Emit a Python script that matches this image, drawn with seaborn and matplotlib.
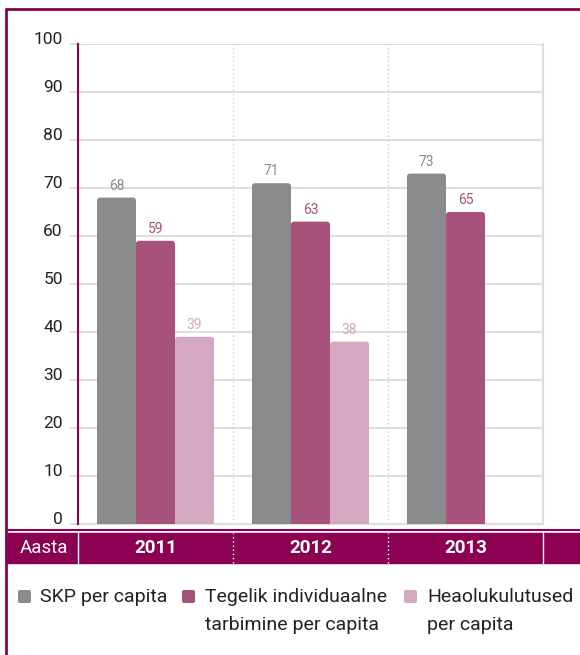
import matplotlib
import matplotlib.pyplot as plt
import pandas as pd
import seaborn as sns
from matplotlib.lines import Line2D
from matplotlib.patches import FancyBboxPatch, Rectangle
from matplotlib.transforms import blended_transform_factory

matplotlib.use("Agg")

YEARS = ["2011", "2012", "2013"]
SERIES = [
    "SKP per capita",
    "Tegelik individuaalne\ntarbimine per capita",
    "Heaolukulutused\nper capita",
]
SKP = [68, 71, 73]
TARBIMINE = [59, 63, 65]
HEAOLU = [39, 38, None]
Y_TICKS = [0, 10, 20, 30, 40, 50, 60, 70, 80, 90, 100]

COLORS = ["#8a8b8d", "#a6527a", "#d4a9bf"]
BRAND = "#8b0050"
GRID = "#dedede"
TEXT = "#222222"
FONTS = ["Roboto", "DejaVu Sans"]

W, H = 580, 655


def fx(px):
    return px / W


def fy(py):
    return 1 - py / H


rows = []
for name, values in zip(SERIES, [SKP, TARBIMINE, HEAOLU]):
    for year, v in zip(YEARS, values):
        if v is not None:
            rows.append({"year": year, "series": name, "value": v})
df = pd.DataFrame(rows)

sns.set_theme(style="white")
plt.rcParams["font.family"] = FONTS

fig = plt.figure(figsize=(W / 100, H / 100), dpi=100)
ax = fig.add_axes([fx(78), fy(524), fx(543) - fx(78), fy(44) - fy(524)])

sns.barplot(
    data=df,
    x="year",
    y="value",
    hue="series",
    order=YEARS,
    hue_order=SERIES,
    palette=COLORS,
    width=0.755,
    saturation=1,
    errorbar=None,
    legend=False,
    linewidth=0,
    ax=ax,
    zorder=3,
)

ax.set_ylim(0, 100)
ax.set_xlim(-0.5, len(YEARS) - 0.5)

for container, color in zip(ax.containers, COLORS):
    ax.bar_label(container, fmt="{:.0f}", padding=3.5, color=color, fontsize=10)

# soften the top corners of the bars like the original
px_x = (fx(543) - fx(78)) * W / len(YEARS)   # pixels per x unit
px_y = (fy(44) - fy(524)) * H / 100          # pixels per y unit
radius = 3 / px_x
aspect = (3 / px_y) / radius
for bar in list(ax.patches):
    x, w, h = bar.get_x(), bar.get_width(), bar.get_height()
    if h <= 0:
        continue
    bar.set_visible(False)
    ax.add_patch(FancyBboxPatch((x, -3), w, h + 3,
                                boxstyle=f"round,pad=0,rounding_size={radius}",
                                mutation_aspect=aspect, facecolor=bar.get_facecolor(),
                                linewidth=0, zorder=3))

ax.set_yticks(Y_TICKS)
ax.set_axisbelow(True)
ax.yaxis.grid(True, color=GRID, linewidth=1.5)
ax.xaxis.grid(False)
ax.tick_params(axis="y", left=True, length=6, width=1.5, color=GRID, pad=5,
               labelsize=12.5, labelcolor=TEXT)
for lbl in ax.get_yticklabels():
    lbl.set_verticalalignment("baseline")
ax.tick_params(axis="x", bottom=False, labelbottom=False)
ax.set_xlabel("")
ax.set_ylabel("")

ax.spines["top"].set_visible(False)
ax.spines["left"].set_color(BRAND)
ax.spines["left"].set_linewidth(1.5)
ax.spines["left"].set_zorder(4)
for side in ["right", "bottom"]:
    ax.spines[side].set_color(GRID)
    ax.spines[side].set_linewidth(1.5)

for b in range(1, len(YEARS)):
    ax.axvline(b - 0.5, color="#cccccc", linestyle=(0, (1, 2)), linewidth=1, zorder=1)

# year band under the plot
trans = blended_transform_factory(ax.transData, fig.transFigure)
fig.add_artist(Rectangle((fx(7), fy(563)), fx(580) - fx(7), fy(533) - fy(563),
                         transform=fig.transFigure, color=BRAND, zorder=1))
fig.add_artist(Line2D([fx(7), 1], [fy(529.5)] * 2, color=BRAND, linewidth=1.5))
for b in range(len(YEARS) + 1):
    ls = "-" if b in (0, len(YEARS)) else (0, (1, 2))
    fig.add_artist(Line2D([b - 0.5, b - 0.5], [fy(563), fy(533)], transform=trans,
                          color="white", linewidth=1, linestyle=ls, zorder=2))
for i, year in enumerate(YEARS):
    fig.text(i, fy(548), year, transform=trans, ha="center", va="center",
             color="white", fontweight="bold", fontsize=13.5)
fig.text(fx(44), fy(548), "Aasta", ha="center", va="center", color="white", fontsize=13.5)

# outer frame
fig.add_artist(Line2D([fx(6), fx(6)], [0, fy(9)], color=BRAND, linewidth=2))
fig.add_artist(Line2D([fx(6), 1], [fy(9)] * 2, color=BRAND, linewidth=2))

# legend
legend_pos = [(18, 40), (182, 205), (404, 427)]
for (sx, tx), name, color in zip(legend_pos, SERIES, COLORS):
    fig.add_artist(FancyBboxPatch((fx(sx), fy(603)), 13 / W, 13 / H,
                                  boxstyle=f"round,pad=0,rounding_size={2 / W}",
                                  mutation_aspect=W / H,
                                  transform=fig.transFigure, facecolor=color, linewidth=0))
    fig.text(fx(tx), fy(588), name, ha="left", va="top", fontsize=14,
             linespacing=1.72, color=TEXT)

fig.savefig("out.png", dpi=100)
